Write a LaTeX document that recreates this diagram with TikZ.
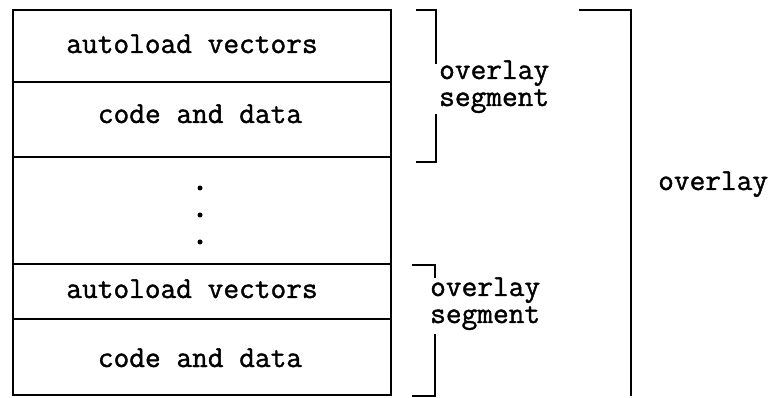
\documentclass[tikz,border=0pt]{standalone}
\usepackage{fontspec}
\newfontfamily\labfont[FakeBold=1.3]{Latin Modern Mono}
\begin{document}
\begin{tikzpicture}[x=1pt,y=-1pt,
  line/.style={line width=1.7pt, line cap=rect},
  lab/.style={font=\labfont\fontsize{30.5}{27}\selectfont, inner sep=0pt, anchor=base},
  sidelab/.style={lab, anchor=base west, align=left},
  dotmark/.style={circle, fill=black, inner sep=0pt, minimum size=5pt}]
\useasboundingbox (0,0) rectangle (769,398);
% rows
\coordinate (tl) at (13,10);
\coordinate (br) at (391,395);
\draw[line] (13,10) rectangle (391,395);
\draw[line] (13,82) -- (391,82);
\draw[line] (13,157) -- (391,157);
\draw[line] (13,264) -- (391,264);
\draw[line] (13,319) -- (391,319);
% texts
\node[lab] (av1) at (192,53) {autoload vectors};
\node[lab] (cd1) at (200,123) {code and data};
\node[lab] (av2) at (192,298) {autoload vectors};
\node[lab] (cd2) at (200,367) {code and data};
\node[dotmark] (d1) at (200,188) {};
\node[dotmark] (d2) at (200,215) {};
\node[dotmark] (d3) at (200,242) {};
% upper overlay segment bracket
\node[sidelab] (os1) at (439,106) {overlay\\segment};
\coordinate (b1t) at (436,10);
\coordinate (b1b) at (436,162);
\draw[line] (417,10) -- (b1t) -- (436,63);
\draw[line] (436,115) -- (b1b) -- (417,162);
% lower overlay segment bracket
\node[sidelab] (os2) at (430,323) {overlay\\segment};
\coordinate (b2t) at (435,265);
\coordinate (b2b) at (435,396);
\draw[line] (413,265) -- (b2t) -- (435,277);
\draw[line] (435,335) -- (b2b) -- (413,396);
% overlay bracket
\node[sidelab] (ov) at (658,190) {overlay};
\coordinate (b3t) at (631,10);
\coordinate (b3b) at (631,395);
\draw[line] (580,10) -- (b3t) -- (b3b);
\end{tikzpicture}
\end{document}
